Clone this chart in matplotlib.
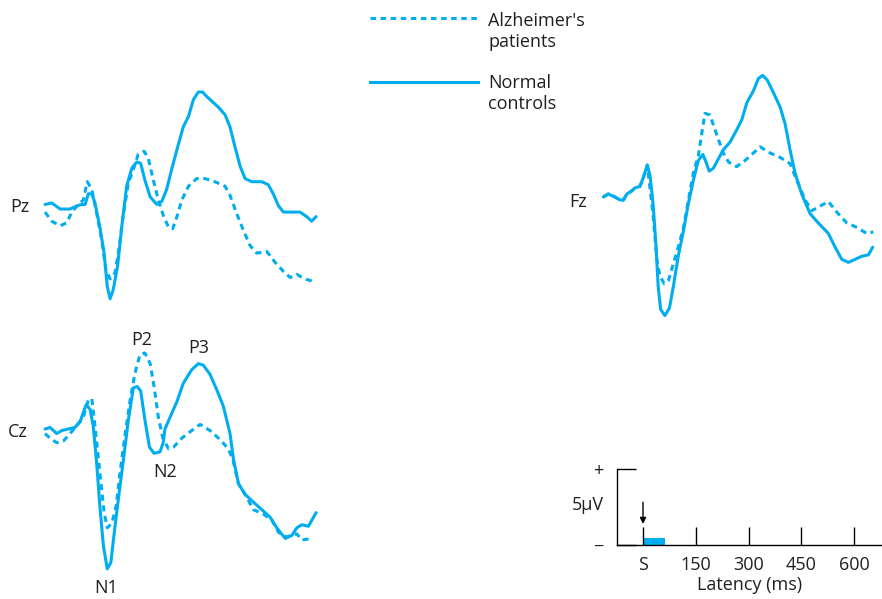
import matplotlib
matplotlib.use("Agg")
import matplotlib.pyplot as plt

plt.rcParams['font.family'] = ['Open Sans', 'DejaVu Sans']

# ERP waveforms: latency in ms (S = stimulus onset = 0), amplitude in microvolts (positive up)
pz_t_normal = [-100, -81, -57, -29, -10, 4, 14, 23, 33, 42, 56, 68, 77, 85, 94, 106, 118, 132, 147, 161,
               172, 184, 199, 218, 232, 246, 260, 275, 293, 308, 322, 336, 348, 360, 374, 393, 412, 426,
               440, 455, 469, 488, 516, 535, 549, 564, 578, 606, 625, 644, 658, 671]
pz_v_normal = [0.1, 0.2, -0.2, -0.2, 0.0, 0.1, 0.1, 0.8, 0.8, 0.2, -1.4, -3.1, -5.3, -6.1, -5.5, -4.0, -1.4,
               1.3, 2.5, 2.9, 2.8, 1.7, 0.6, 0.1, 0.3, 1.1, 2.4, 3.7, 5.2, 5.9, 7.0, 7.5, 7.5, 7.2, 6.9, 6.5,
               6.0, 5.2, 3.9, 2.6, 1.8, 1.6, 1.6, 1.4, 0.8, 0.0, -0.4, -0.4, -0.4, -0.7, -1.0, -0.7]
pz_t_alz = [-100, -81, -57, -38, -24, -5, 9, 20, 33, 47, 61, 73, 85, 99, 111, 123, 137, 151, 165, 182, 194,
            208, 222, 236, 251, 263, 275, 289, 308, 331, 355, 383, 412, 426, 445, 464, 483, 502, 531, 554,
            578, 597, 616, 639, 668]
pz_v_alz = [-0.4, -1.0, -1.3, -1.1, -0.4, 0.1, 0.4, 1.6, 1.1, -0.5, -2.2, -4.2, -4.8, -4.4, -2.7, -0.5, 1.5,
            2.4, 3.4, 3.6, 3.1, 1.7, 0.4, -0.6, -1.4, -1.5, -0.7, 0.4, 1.3, 1.8, 1.8, 1.6, 1.3, 0.7, -0.5,
            -1.6, -2.6, -3.1, -3.0, -3.7, -4.3, -4.7, -4.5, -4.8, -5.0]

cz_t_normal = [-100, -86, -76, -67, -52, -34, -15, 0, 9, 17, 28, 37, 47, 56, 66, 77, 87, 99, 108, 123, 137,
               151, 162, 172, 184, 197, 210, 227, 236, 241, 256, 275, 293, 317, 336, 350, 369, 388, 407,
               426, 436, 450, 469, 492, 521, 540, 559, 583, 602, 616, 630, 649, 661, 671]
cz_v_normal = [0.0, 0.1, -0.1, -0.3, -0.1, 0.0, 0.1, 0.5, 1.1, 1.6, 1.3, 0.2, -2.3, -5.1, -7.7, -9.2, -8.8,
               -6.4, -4.7, -2.0, 0.6, 2.7, 2.8, 2.5, 0.6, -1.2, -1.6, -1.5, -0.9, 0.0, 0.8, 1.8, 3.0, 3.9,
               4.3, 4.2, 3.6, 2.6, 1.5, -0.3, -2.0, -3.6, -4.3, -4.8, -5.4, -5.8, -6.5, -7.2, -7.0, -6.5,
               -6.3, -6.4, -5.9, -5.5]
cz_t_alz = [-100, -86, -67, -48, -29, -10, 9, 23, 33, 42, 56, 68, 77, 90, 102, 113, 128, 142, 156, 170, 184,
            199, 210, 222, 235, 251, 265, 289, 317, 341, 369, 398, 421, 434, 450, 474, 492, 521, 545, 564,
            587, 616, 630, 658]
cz_v_alz = [-0.3, -0.6, -0.9, -0.8, -0.3, 0.2, 0.8, 1.9, 2.0, 0.2, -2.9, -5.5, -6.5, -6.2, -5.1, -2.9, -0.3,
            1.9, 3.7, 4.9, 5.0, 4.3, 2.8, 0.8, -0.6, -1.3, -1.2, -0.6, -0.1, 0.3, -0.1, -0.7, -1.3, -2.0,
            -3.6, -4.5, -5.3, -5.6, -6.0, -6.8, -7.1, -6.9, -7.3, -7.2]

fz_t_normal = [-100, -86, -67, -52, -43, -33, -19, -10, 4, 14, 25, 33, 42, 50, 56, 63, 75, 88, 99, 113, 128,
               142, 156, 170, 183, 192, 201, 213, 227, 241, 260, 279, 294, 308, 327, 341, 353, 366, 383,
               403, 417, 431, 445, 464, 488, 511, 540, 559, 578, 597, 616, 635, 654, 666]
fz_v_normal = [0.0, 0.2, 0.0, -0.2, -0.2, 0.2, 0.4, 0.6, 0.7, 1.3, 2.1, 1.4, -0.6, -3.3, -5.9, -7.4, -7.8,
               -7.3, -5.9, -3.9, -2.2, -0.4, 1.1, 2.4, 2.8, 2.3, 1.7, 1.9, 2.5, 3.1, 3.6, 4.4, 5.1, 6.2, 7.0,
               7.8, 8.0, 7.7, 6.9, 5.9, 4.8, 3.1, 1.6, 0.2, -1.1, -1.7, -2.4, -3.3, -4.1, -4.3, -4.1, -3.9,
               -3.8, -3.3]
fz_t_alz = [-100, -86, -67, -52, -43, -33, -19, -10, 4, 14, 25, 42, 52, 61, 73, 85, 99, 113, 128, 142, 156,
            170, 180, 189, 203, 215, 227, 241, 256, 279, 303, 327, 346, 374, 403, 431, 450, 474, 493, 516,
            540, 564, 592, 621, 649, 668]
fz_v_alz = [0.0, 0.2, 0.0, -0.2, -0.2, 0.2, 0.4, 0.6, 0.7, 1.3, 2.1, -1.3, -4.1, -5.2, -5.7, -5.5, -4.4,
            -3.3, -2.0, -0.2, 1.6, 2.7, 4.2, 5.5, 5.4, 4.6, 3.8, 2.9, 2.3, 2.0, 2.4, 2.9, 3.3, 2.9, 2.6,
            2.2, 1.1, -0.2, -0.9, -0.6, -0.3, -1.0, -1.7, -2.0, -2.4, -2.3]

scale_ticks = [0, 150, 300, 450, 600]
scale_labels = ['S', '150', '300', '450', '600']
stim_duration = 62   # ms
scale_uv = 5

W, H = 882, 599
PX_PER_MS = 52.75 / 150
PX_PER_UV = 76 / 5
BLUE = '#00AEEF'
INK = '#231F20'
FS = 13
LW = 2.2

fig = plt.figure(figsize=(W / 100, H / 100), dpi=100)


def wave_axes(onset_px, base_px):
    # full-figure overlay whose data units are ms / microvolts
    ax = fig.add_axes([0, 0, 1, 1])
    ax.set_axis_off()
    ax.patch.set_alpha(0)
    ax.set_xlim(-onset_px / PX_PER_MS, (W - onset_px) / PX_PER_MS)
    ax.set_ylim((base_px - H) / PX_PER_UV, base_px / PX_PER_UV)
    return ax


panels = [
    (80.2, 206, pz_t_normal, pz_v_normal, pz_t_alz, pz_v_alz),
    (80.2, 429, cz_t_normal, cz_v_normal, cz_t_alz, cz_v_alz),
    (638.5, 197, fz_t_normal, fz_v_normal, fz_t_alz, fz_v_alz),
]
for onset, base, tn, vn, ta, va in panels:
    ax = wave_axes(onset, base)
    ax.plot(ta, va, color=BLUE, lw=LW, dashes=(2.0, 1.5), solid_joinstyle='round')
    ax.plot(tn, vn, color=BLUE, lw=LW, solid_joinstyle='round', solid_capstyle='round')

# layout overlay in pixel units for labels and legend
lay = fig.add_axes([0, 0, 1, 1])
lay.set_axis_off()
lay.patch.set_alpha(0)
lay.set_xlim(0, W)
lay.set_ylim(H, 0)

for txt, x, y in [('Pz', 10, 212), ('Cz', 8, 437), ('Fz', 569, 207)]:
    lay.text(x, y, txt, fontsize=FS, color=INK, ha='left', va='baseline')
for txt, x, y in [('P2', 142, 345), ('P3', 199, 353), ('N2', 165, 477), ('N1', 106, 593)]:
    lay.text(x, y, txt, fontsize=FS, color=INK, ha='center', va='baseline')

lay.plot([370, 478], [18, 18], color=BLUE, lw=LW, dashes=(1.8, 1.5))
lay.plot([370, 478], [82, 82], color=BLUE, lw=LW)
for txt, y in [("Alzheimer's", 26), ('patients', 47), ('Normal', 88), ('controls', 109)]:
    lay.text(488, y, txt, fontsize=FS, color=INK, ha='left', va='baseline')

# calibration / latency scale
sc = fig.add_axes([617 / W, (H - 545) / H, (W - 617) / W, 76 / H])
sc.patch.set_alpha(0)
sc.set_xlim((617 - 643) / PX_PER_MS, (W - 643) / PX_PER_MS)
sc.set_ylim(0, scale_uv)
for s in ['top', 'right']:
    sc.spines[s].set_visible(False)
for s in ['left', 'bottom']:
    sc.spines[s].set_linewidth(1.0)
    sc.spines[s].set_color('black')
sc.set_xticks(scale_ticks)
sc.set_xticklabels(scale_labels)
sc.tick_params(axis='x', direction='in', length=13, width=1.0, pad=8, labelsize=FS, labelcolor=INK)
sc.set_yticks([0, scale_uv])
sc.set_yticklabels(['\u2212', '+'])
sc.tick_params(axis='y', direction='in', length=13.5, width=1.0, pad=10, labelsize=FS, labelcolor=INK)
sc.set_xlabel('Latency (ms)', fontsize=FS, color=INK, labelpad=1)
sc.set_ylabel('5\u03bcV', fontsize=FS, color=INK, rotation=0, ha='center', va='baseline')
sc.yaxis.set_label_coords((588 - 617) / (W - 617), (545 - 510) / 76)
sc.bar(0, 0.45, width=stim_duration, align='edge', color=BLUE)
sc.annotate('', xy=(0, 1.2), xytext=(0, 3.0),
            arrowprops=dict(arrowstyle='-|>', color='black', lw=1.0, mutation_scale=9))

fig.savefig('out.png', dpi=100)
